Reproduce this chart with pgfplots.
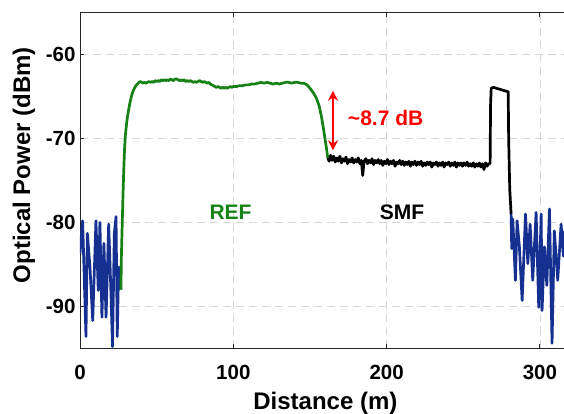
\documentclass[border=0pt]{standalone}
\usepackage{fontspec}
\setmainfont{Liberation Sans}
\usepackage{pgfplots}
\pgfplotsset{compat=1.18}
\usetikzlibrary{arrows.meta}
\definecolor{refgreen}{RGB}{22,130,22}
\definecolor{noiseblue}{RGB}{22,48,145}
\definecolor{gridgray}{RGB}{215,215,215}
\begin{document}
\begin{tikzpicture}
\useasboundingbox (-80pt,-64.7pt) rectangle (484pt,348.3pt);
\begin{axis}[
  at={(0,0)}, anchor=south west,
  scale only axis, width=484pt, height=335.6pt,
  xmin=0, xmax=315.7, ymin=-95, ymax=-55,
  axis x line*=box, axis y line*=left,
  xtick={0,100,200,300}, ytick={-90,-80,-70,-60},
  tick align=inside, major tick length=4pt,
  grid=major,
  major grid style={gridgray, dash pattern=on 8pt off 5pt, line width=0.8pt},
  axis line style={line width=0.9pt, black!85},
  tick style={line width=0.9pt, black!85},
  /pgf/number format/assume math mode=true,
  ticklabel style={font=\bfseries\fontsize{20.5}{20.5}\selectfont},
  xticklabel style={yshift=-13pt},
  yticklabel style={xshift=-1pt},
  xlabel={Distance (m)}, ylabel={Optical Power (dBm)},
  label style={font=\bfseries\fontsize{24}{24}\selectfont},
  xlabel style={at={(axis description cs:0.507,-0.163)}, anchor=center},
  ylabel style={at={(axis description cs:-0.116,0.546)}, anchor=center},
  clip=true,
]
% blue noise left
\addplot[noiseblue, line width=2.7pt, line join=round] coordinates {
(0,-83.7) (1.7,-79.8) (3.9,-93.6) (4.8,-81.3) (6.5,-85.3) (8.3,-91.7) (10.4,-79.8)
(11.9,-88.1) (13,-80) (14.3,-91.3) (15.6,-82.5) (17,-91.3) (18.7,-80.2) (20,-87.3)
(21.2,-94.8) (22.4,-81.3) (23.5,-79.3) (24.3,-93.6) (25.2,-85.3) (26.7,-88.0)
};
% blue noise right
\addplot[noiseblue, line width=2.7pt, line join=round] coordinates {
(281.2,-79.0) (281.6,-83.1) (282.3,-79.6) (284,-86.9) (285.1,-79.8) (286.6,-82.9)
(288.4,-89.3) (290.6,-79.0) (292.1,-84.9) (293.6,-80.2) (295.3,-86.9) (297.5,-78.8)
(299.2,-90.1) (300.8,-79.0) (301.4,-90.5) (302.9,-82.9) (304.5,-87.5) (306.2,-78.4)
(307.9,-94.4) (309.4,-81.0) (311.6,-86.9) (313.8,-80.2) (315.3,-84.0) (316,-81)
};
% REF green
\addplot[refgreen, line width=2.7pt, line join=round] coordinates {
(26.7,-88.0) (27.0,-84) (27.5,-80.5) (28.0,-77) (28.5,-74) (29.0,-71.5) (29.5,-69.8)
(30.5,-68.0) (31.5,-66.8) (32.5,-65.8) (33.5,-65.0) (34.5,-64.4) (35.5,-64.0)
(36.5,-63.7) (37.5,-63.5) (38.5,-63.3) (39.5,-63.2) (41,-63.4) (42,-63.3) (43,-63.4)
(44,-63.3) (45,-63.2) (46,-63.3) (47,-63.2) (48,-63.3) (49,-63.1) (50,-63.2) (51,-63.1)
(52,-63.2) (53,-63.0) (54,-63.1) (55,-63.0) (56,-63.1) (57,-63.0) (58,-63.1) (59,-62.9)
(60,-63.0) (61,-63.1) (62,-62.9) (63,-62.9) (64,-63.0) (65,-63.1) (66,-63.0) (67,-63.1)
(68,-63.0) (69,-63.2) (70,-63.1) (71,-63.2) (72,-63.1) (73,-63.2) (74,-63.3) (75,-63.2)
(76,-63.3) (77,-63.2) (78,-63.1) (79,-63.2) (80,-63.3) (81,-63.2) (82,-63.3) (83,-63.4)
(84,-63.3) (85,-63.5) (86,-63.6) (87,-63.7) (88,-63.8) (89,-63.9) (90,-63.8) (91,-63.9)
(92,-64.0) (93,-63.9) (94,-64.0) (95,-63.9) (96,-64.0) (97,-63.9) (98,-63.8) (99,-63.9)
(100,-63.8) (102,-63.8) (104,-63.7) (106,-63.7) (108,-63.6) (110,-63.6) (112,-63.5)
(114,-63.5) (116,-63.4) (118,-63.3) (120,-63.4) (122,-63.3) (124,-63.4) (126,-63.5)
(128,-63.4) (130,-63.5) (132,-63.4) (134,-63.3) (136,-63.3) (138,-63.4) (140,-63.3)
(142,-63.3) (144,-63.4) (146,-63.4) (148,-63.6) (150,-64.0) (152,-64.5) (154,-65.1)
(156,-66.1) (157.6,-67.5) (158.8,-68.8) (159.7,-69.9) (160.8,-71.2) (161.6,-72.3)
};
% SMF black
\addplot[black, line width=2.7pt, line join=round] coordinates {
(161.6,-72.3) (162.5,-72.7) (163.5,-72.0) (164.5,-72.6) (165.5,-72.1) (166.5,-72.8)
(167.5,-72.3) (168.5,-72.7) (169.5,-72.1) (170.5,-72.9) (171.5,-72.4) (172.5,-72.7)
(173.5,-72.2) (174.5,-73.0) (175.5,-72.5) (176.5,-72.8) (177.5,-72.3) (178.5,-72.9)
(179.5,-72.5) (180.5,-72.8) (181.5,-72.3) (182.5,-73.0) (183.5,-72.6) (184.4,-74.4)
(185.3,-72.7) (186.5,-72.4) (187.5,-73.0) (188.5,-72.6) (189.5,-72.9) (190.5,-72.4)
(191.5,-73.1) (192.5,-72.6) (193.5,-72.9) (194.5,-72.5) (195.5,-73.0) (196.5,-72.6)
(197.5,-73.2) (198.5,-72.7) (199.5,-73.0) (200.5,-72.5) (201.5,-73.1) (202.5,-72.7)
(203.5,-73.0) (204.5,-72.6) (205.5,-73.3) (206.5,-72.8) (207.5,-73.0) (208.5,-72.6)
(209.5,-73.1) (210.5,-72.7) (211.5,-73.2) (212.5,-72.8) (213.5,-73.1) (214.5,-72.7)
(215.5,-73.3) (216.5,-72.8) (217.5,-73.1) (218.5,-72.7) (219.5,-73.2) (220.5,-72.8)
(221.5,-73.1) (222.5,-72.7) (223.5,-73.3) (224.5,-72.9) (225.5,-73.2) (226.5,-72.8)
(227.5,-73.1) (228.5,-72.8) (229.5,-73.4) (230.5,-72.9) (231.5,-73.1) (232.5,-72.8)
(233.5,-73.3) (234.5,-72.9) (235.5,-73.2) (236.5,-72.8) (237.5,-73.4) (238.5,-72.9)
(239.5,-73.1) (240.5,-72.8) (241.5,-73.3) (242.5,-72.9) (243.5,-73.2) (244.5,-72.8)
(245.5,-73.4) (246.5,-72.9) (247.5,-73.2) (248.5,-72.9) (249.5,-73.3) (250.5,-72.9)
(251.5,-73.2) (252.5,-72.8) (253.5,-73.3) (254.5,-73.0) (255.5,-73.3) (256.5,-72.9)
(257.5,-73.4) (258.5,-73.0) (259.5,-73.3) (260.5,-72.9) (261.5,-73.4) (262.5,-73.0)
(263.5,-73.7) (264.5,-72.9) (265.5,-73.3) (266.5,-73.0) (267.5,-73.0) (267.8,-66)
(268.2,-64.0) (269.7,-63.9) (278.8,-64.4) (279.3,-64.4) (279.6,-70) (280.3,-76)
(281.2,-79.0)
};
% annotation
\draw[red, line width=2.2pt, <->, >={Stealth[length=10pt,width=10pt]}] (axis cs:165,-64.3) -- (axis cs:165,-71.4);
\node[red, anchor=west, font=\bfseries\fontsize{21}{21}\selectfont] at (axis cs:172.5,-67.6) {\textasciitilde8.7 dB};
\node[refgreen, font=\bfseries\fontsize{21}{21}\selectfont] at (axis cs:98.2,-78.8) {REF};
\node[black, font=\bfseries\fontsize{21}{21}\selectfont] at (axis cs:210,-78.8) {SMF};
\end{axis}
\end{tikzpicture}
\end{document}
